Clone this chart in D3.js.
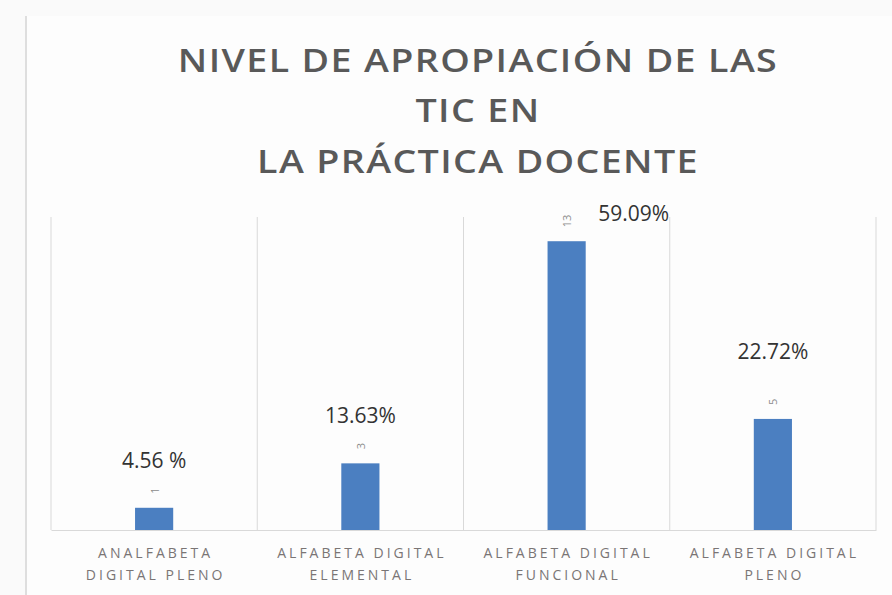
<!DOCTYPE html>
<html>
<head>
<meta charset="utf-8">
<script src="https://cdn.jsdelivr.net/npm/d3@7"></script>
<style>
  html, body { margin: 0; padding: 0; background: #fafafa; }
  svg { display: block; }
</style>
</head>
<body>
<svg id="chart" width="892" height="595"></svg>
<script>
// ---- data ----
const categories = [
  ["ANALFABETA", "DIGITAL PLENO"],
  ["ALFABETA DIGITAL", "ELEMENTAL"],
  ["ALFABETA DIGITAL", "FUNCIONAL"],
  ["ALFABETA DIGITAL", "PLENO"]
];
const counts = [1, 3, 13, 5];
const percentLabels = ["4.56 %", "13.63%", "59.09%", "22.72%"];
const titleLines = ["NIVEL DE APROPIACIÓN DE LAS", "TIC EN", "LA PRÁCTICA DOCENTE"];
const yDomain = [0, 14];

// ---- layout (not data) ----
const W = 892, H = 595;
const plot = { left: 51, right: 876, top: 219, bottom: 530 };
const pctOffsets = [[0, -40], [0, -40], [67, -20], [0, -60]]; // manual label placement relative to bar top

const svg = d3.select("#chart");

svg.append("rect").attr("x", 0).attr("y", 0).attr("width", W).attr("height", H).attr("fill", "#fafafa");
svg.append("rect").attr("x", 27).attr("y", 16).attr("width", W - 27).attr("height", H - 16).attr("fill", "#fdfdfd");
svg.append("line").attr("x1", 26).attr("x2", 26).attr("y1", 16).attr("y2", H)
  .attr("stroke", "#dedede").attr("stroke-width", 2);

const idx = categories.map((d, i) => i);
const x = d3.scaleBand().domain(idx).range([plot.left, plot.right]).paddingInner(0.815).paddingOuter(0.4075);
const xCat = d3.scaleBand().domain(idx).range([plot.left, plot.right]);
const y = d3.scaleLinear().domain(yDomain).range([plot.bottom, plot.top]);

// title (horizontally stretched like the reference)
const title = svg.append("text")
  .attr("transform", "translate(478,0) scale(1.14,1)")
  .attr("text-anchor", "middle")
  .attr("font-family", "'Open Sans', sans-serif")
  .attr("font-weight", 600)
  .attr("font-size", 33)
  .attr("letter-spacing", 1.2)
  .attr("fill", "#595959");
const titleBaselines = [72, 122, 173];
titleLines.forEach((t, i) => {
  title.append("tspan").attr("x", 0).attr("y", titleBaselines[i]).text(t);
});

// vertical category separators
const gridG = svg.append("g");
const seps = idx.map(i => xCat(i)).concat([xCat(idx.length - 1) + xCat.bandwidth()]);
gridG.selectAll("line").data(seps).join("line")
  .attr("x1", d => d).attr("x2", d => d)
  .attr("y1", 217).attr("y2", plot.bottom)
  .attr("stroke", "#d9d9d9").attr("stroke-width", 1);

// bars
svg.append("g").selectAll("rect").data(counts).join("rect")
  .attr("x", (d, i) => x(i))
  .attr("y", d => y(d))
  .attr("width", x.bandwidth())
  .attr("height", d => y(0) - y(d))
  .attr("fill", "#4b7fc1");

// baseline axis
const xAxis = d3.axisBottom(xCat).tickSize(0).tickFormat("");
const axG = svg.append("g").attr("transform", `translate(0,${plot.bottom})`).call(xAxis);
axG.select(".domain").attr("stroke", "#d9d9d9").attr("stroke-width", 1.2);

// category labels
const catG = svg.append("g")
  .attr("font-family", "'Open Sans', sans-serif")
  .attr("font-size", 14)
  .attr("letter-spacing", 3)
  .attr("fill", "#7a7575")
  .attr("text-anchor", "middle");
categories.forEach((lines, i) => {
  const t = catG.append("text");
  lines.forEach((l, j) => {
    t.append("tspan").attr("x", xCat(i) + xCat.bandwidth() / 2 + 1.5).attr("y", plot.bottom + 28 + j * 22).text(l);
  });
});

// small rotated count labels
svg.append("g").selectAll("text").data(counts).join("text")
  .attr("transform", (d, i) => `translate(${x(i) + x.bandwidth() / 2},${y(d) - 14}) rotate(-90)`)
  .attr("text-anchor", "start")
  .attr("dominant-baseline", "central")
  .attr("font-family", "'Open Sans', sans-serif")
  .attr("font-size", 11)
  .attr("fill", "#8c8c8c")
  .text(d => d);

// percent labels
svg.append("g").selectAll("text").data(percentLabels).join("text")
  .attr("x", (d, i) => x(i) + x.bandwidth() / 2 + pctOffsets[i][0])
  .attr("y", (d, i) => y(counts[i]) + pctOffsets[i][1])
  .attr("text-anchor", "middle")
  .attr("font-family", "'Open Sans', sans-serif")
  .attr("font-size", 21)
  .attr("fill", "#333333")
  .text(d => d);
</script>
</body>
</html>
